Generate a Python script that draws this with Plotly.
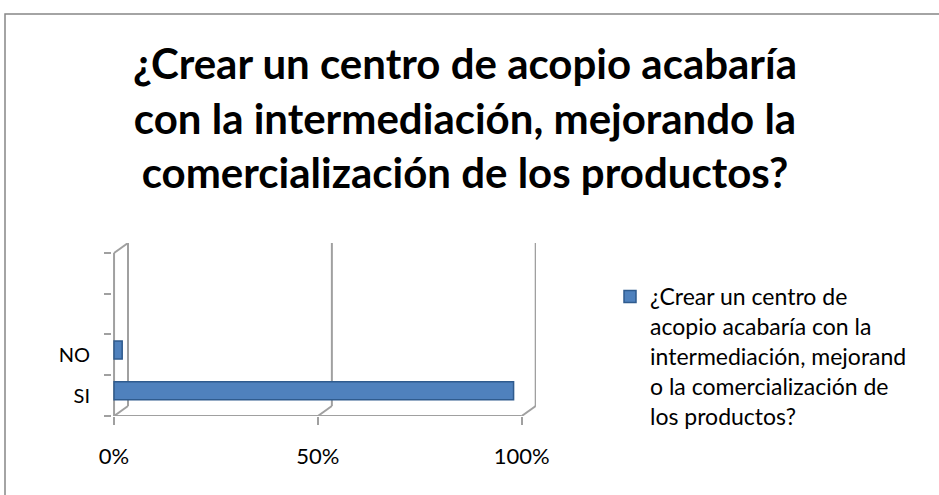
import plotly.graph_objects as go

# ── data ─────────────────────────────────────────────────────────────────────
categories = ["SI", "NO", " ", "  "]
values = [98, 2]
x_ticks = [0, 50, 100]
x_tick_labels = ["0%", "50%", "100%"]
title_text = ("¿Crear un centro de acopio acabaría<br>"
              "con la intermediación, mejorando la<br>"
              "comercialización de los productos?")
series_name = ("¿Crear un centro de<br>acopio acabaría con la<br>"
               "intermediación, mejorand<br>o la comercialización de<br>"
               "los productos?")

W, H = 939, 495
L, R, T, B = 112, W - 536, 243, H - 416
FONT = "Lato, 'Open Sans', sans-serif"
GRID = "#A0A0A0"
DX, DY = 3.43, 0.245   # depth offset of the back wall (x units, category units)


def px_x(p):
    return (p - L) / (W - L - R)


def px_y(p):
    return 1 - (p - T) / (H - T - B)


fig = go.Figure()
fig.add_trace(go.Bar(
    y=categories[:len(values)], x=values, orientation="h",
    name=series_name, width=0.44, offset=-0.10,
    marker=dict(color="#4F81BD", line=dict(color="#2F5B8E", width=1.5)),
    showlegend=True,
))

# 3D-style walls: back gridlines, floor diagonals, front floor line
line_style = dict(color=GRID, width=2)
for t in x_ticks:
    fig.add_shape(type="line", xref="x", yref="y", x0=t + DX, x1=t + DX,
                  y0=-0.5 + DY, y1=3.5 + DY, line=line_style, layer="below")
    fig.add_shape(type="line", xref="x", yref="y", x0=t, x1=t + DX,
                  y0=-0.5, y1=-0.5 + DY, line=line_style, layer="below")
fig.add_shape(type="line", xref="x", yref="y", x0=0, x1=x_ticks[-1],
              y0=-0.5, y1=-0.5, line=line_style, layer="below")
fig.add_shape(type="line", xref="x", yref="y", x0=0, x1=0,
              y0=-0.5, y1=3.5, line=line_style, layer="below")
fig.add_shape(type="line", xref="x", yref="y", x0=0, x1=DX,
              y0=3.5, y1=3.5 + DY, line=line_style, layer="below")

# outer chart border
fig.add_shape(type="rect", xref="paper", yref="paper",
              x0=px_x(5), x1=px_x(W + 10), y0=px_y(14), y1=px_y(H + 10),
              line=dict(color="#878787", width=1.5), fillcolor="rgba(0,0,0,0)",
              layer="below")

fig.update_layout(
    width=W, height=H,
    margin=dict(l=L, r=R, t=T, b=B),
    paper_bgcolor="white", plot_bgcolor="white",
    font=dict(family=FONT, color="#000000"),
    title=dict(text=f"<b>{title_text}</b>", x=465 / W, xanchor="center",
               y=1 - 79 / H, yanchor="middle", yref="container",
               font=dict(size=42, family=FONT, color="#000000")),
    xaxis=dict(range=[-0.5, 103.5], tickvals=x_ticks, ticktext=x_tick_labels,
               showgrid=False, zeroline=False, showline=False,
               ticks="outside", ticklen=8, tickcolor=GRID, tickwidth=2,
               ticklabelstandoff=13,
               tickfont=dict(size=22, family=FONT, color="#000000")),
    yaxis=dict(categoryorder="array", categoryarray=categories,
               range=[-0.5, 3.5 + DY], showline=False,
               ticks="outside", tickson="boundaries", ticklen=7, tickcolor=GRID,
               tickwidth=2, showgrid=False, zeroline=False, ticklabelstandoff=21,
               tickfont=dict(size=20, family=FONT, color="#000000")),
    legend=dict(x=px_x(610), y=px_y(275), xanchor="left", yanchor="top",
                valign="top", font=dict(size=23, family=FONT, color="#000000"),
                bgcolor="rgba(0,0,0,0)", itemwidth=30),
)

fig.write_html("out.html", config={"displayModeBar": False},
               post_script="document.body.style.margin='0';")
